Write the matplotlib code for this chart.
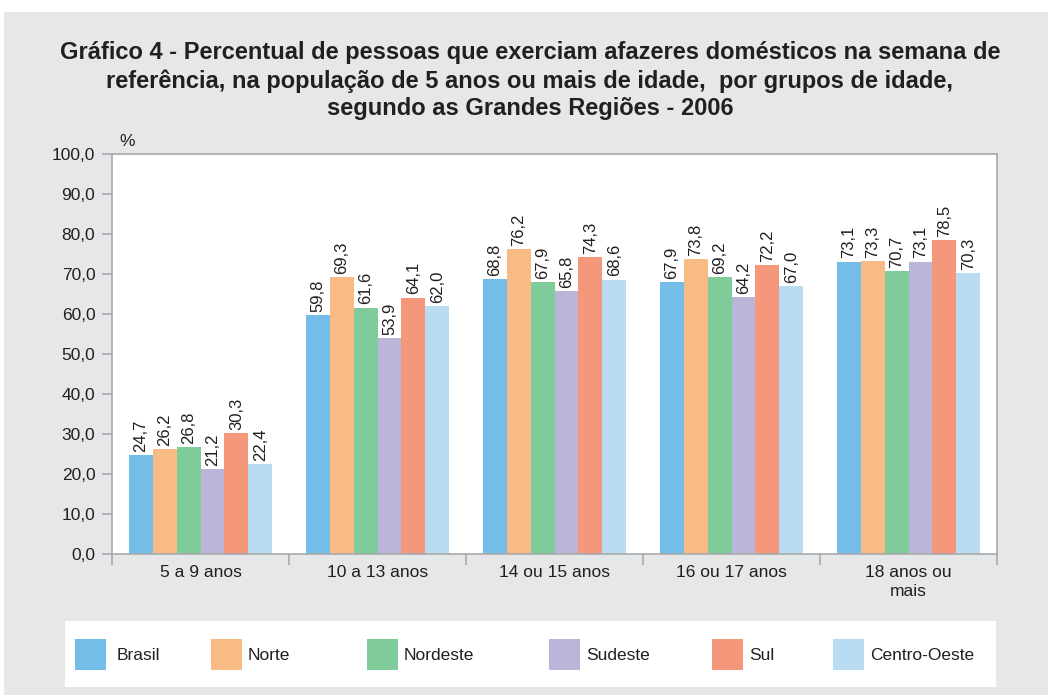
import matplotlib
matplotlib.use("Agg")
import matplotlib.pyplot as plt
from matplotlib.patches import Rectangle
import numpy as np

categories = ["5 a 9 anos", "10 a 13 anos", "14 ou 15 anos", "16 ou 17 anos", "18 anos ou\nmais"]
series_names = ["Brasil", "Norte", "Nordeste", "Sudeste", "Sul", "Centro-Oeste"]
brasil = [24.7, 59.8, 68.8, 67.9, 73.1]
norte = [26.2, 69.3, 76.2, 73.8, 73.3]
nordeste = [26.8, 61.6, 67.9, 69.2, 70.7]
sudeste = [21.2, 53.9, 65.8, 64.2, 73.1]
sul = [30.3, 64.1, 74.3, 72.2, 78.5]
centro_oeste = [22.4, 62.0, 68.6, 67.0, 70.3]
series_values = [brasil, norte, nordeste, sudeste, sul, centro_oeste]
colors = ["#74bde8", "#f9bb85", "#80cb9a", "#bab6da", "#f5977a", "#b9dcf3"]
yticks = [0, 10, 20, 30, 40, 50, 60, 70, 80, 90, 100]

W, H = 1048, 695
fig = plt.figure(figsize=(W / 100, H / 100), dpi=100)
fig.patch.set_facecolor("white")
bg = Rectangle((4 / W, 0), 1 - 4 / W, 1 - 12 / H, transform=fig.transFigure,
               facecolor="#e6e7e9", edgecolor="none", zorder=-10)
fig.patches.append(bg)

title_font = ["Liberation Sans", "DejaVu Sans"]
title_lines = ["Gráfico 4 - Percentual de pessoas que exerciam afazeres domésticos na semana de",
               "referência, na população de 5 anos ou mais de idade,  por grupos de idade,",
               "segundo as Grandes Regiões - 2006"]
for i, line in enumerate(title_lines):
    fig.text(530 / W, 1 - (53 + 28 * i) / H, line, ha="center", va="center",
             fontsize=17, fontweight="bold", family=title_font, color="#231f20")

ax_l, ax_r, ax_t, ax_b = 112, 997, 154, 554
ax = fig.add_axes([ax_l / W, 1 - ax_b / H, (ax_r - ax_l) / W, (ax_b - ax_t) / H])
ax.set_facecolor("white")

n = len(series_names)
x = np.arange(len(categories))
group_w = 0.81
bw = group_w / n
for i, (name, vals, c) in enumerate(zip(series_names, series_values, colors)):
    pos = x - group_w / 2 + bw * (i + 0.5)
    ax.bar(pos, vals, width=bw, color=c, label=name, linewidth=0)
    for p, v in zip(pos, vals):
        ax.text(p, v + 0.8, f"{v:.1f}".replace(".", ","), rotation=90,
                ha="center", va="bottom", fontsize=12, color="#231f20",
                family=["Liberation Sans", "DejaVu Sans"])

ax.set_xlim(-0.5, len(categories) - 0.5)
ax.set_ylim(0, 100)
ax.set_yticks(yticks)
ax.set_yticklabels([f"{t:.1f}".replace(".", ",") for t in yticks],
                   fontsize=12.5, color="#231f20", family=["Liberation Sans", "DejaVu Sans"])
ax.set_xticks(x)
ax.set_xticklabels(categories, fontsize=12.5, color="#231f20",
                   family=["Liberation Sans", "DejaVu Sans"], linespacing=1.3)
ax.tick_params(axis="x", length=0, pad=8)
ax.set_xticks(np.arange(-0.5, len(categories), 1.0), minor=True)
ax.tick_params(axis="x", which="minor", length=8, color="#a7a9ac", width=1.2)
ax.tick_params(axis="y", length=7, color="#a7a9ac", width=1.2, pad=5)
for s in ax.spines.values():
    s.set_color("#a7a9ac")
    s.set_linewidth(1.2)

fig.text(127 / W, 1 - 142 / H, "%", ha="center", va="center", fontsize=12.5,
         color="#231f20", family=["Liberation Sans", "DejaVu Sans"])

# legend box
lg = Rectangle((65 / W, 1 - 687 / H), (996 - 65) / W, (687 - 621) / H,
               transform=fig.transFigure, facecolor="white", edgecolor="none", zorder=1)
fig.patches.append(lg)
patch_x = [75, 211, 367, 549, 712, 833]
for px, name, c in zip(patch_x, series_names, colors):
    fig.patches.append(Rectangle((px / W, 1 - 670 / H), 31 / W, 31 / H,
                                 transform=fig.transFigure, facecolor=c,
                                 edgecolor="none", zorder=2))
    fig.text((px + 42) / W if name == "Brasil" else (px + 37) / W, 1 - 655 / H, name,
             ha="left", va="center", fontsize=12.5, color="#231f20",
             family=["Liberation Sans", "DejaVu Sans"], zorder=3)

fig.savefig("out.png", dpi=100, facecolor=fig.get_facecolor())
